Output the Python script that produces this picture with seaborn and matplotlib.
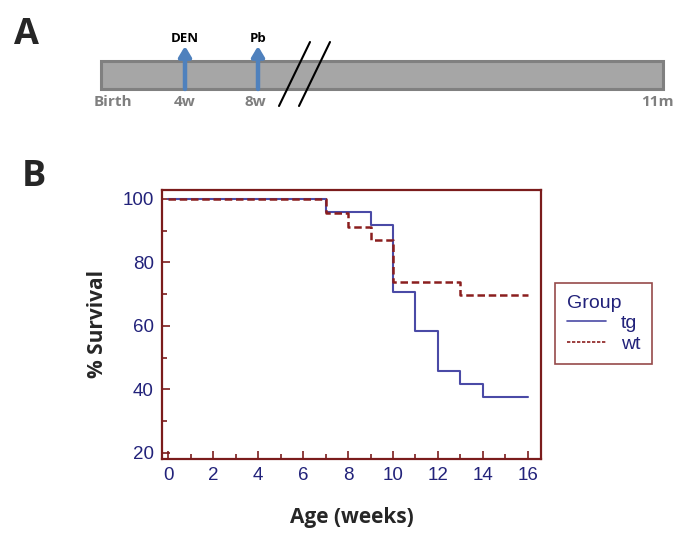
import matplotlib
matplotlib.use("Agg")
import matplotlib.pyplot as plt
import seaborn as sns
import pandas as pd
import numpy as np
from matplotlib.lines import Line2D

# --- data ---
tg_weeks = [0, 7, 9, 10, 11, 12, 13, 14, 16]
tg_surv = [100, 95.8, 91.7, 70.8, 58.3, 45.8, 41.7, 37.5, 37.5]
wt_weeks = [0, 7, 8, 9, 10, 13, 16]
wt_surv = [100, 95.7, 91.3, 87.0, 73.9, 69.6, 69.6]
groups = ["tg", "wt"]

timeline_labels = ["Birth", "4w", "8w", "11m"]
timeline_events = ["DEN", "Pb"]

df = pd.DataFrame({
    "Age": tg_weeks + wt_weeks,
    "Survival": tg_surv + wt_surv,
    "Group": ["tg"] * len(tg_weeks) + ["wt"] * len(wt_weeks),
})

sns.set_theme(style="white")
plt.rcParams["font.family"] = ["Liberation Sans", "DejaVu Sans"]

W, H = 685, 538
fig = plt.figure(figsize=(W / 100, H / 100), dpi=100)

# colours
red = "#7b1c1c"
navy = "#22227a"
line_blue = "#4a4aa6"
line_red = "#8b1e1e"
grey_txt = "#7f7f7f"
label_font = ["Open Sans", "DejaVu Sans"]

# --- panel A: timeline drawn on a pixel canvas ---
canvas = fig.add_axes([0, 0, 1, 1])
canvas.set_xlim(0, W)
canvas.set_ylim(H, 0)
canvas.axis("off")
canvas.patch.set_alpha(0)

bar_x0, bar_x1, bar_top, bar_bot = 101, 663, 61, 89
canvas.add_patch(plt.Rectangle((bar_x0, bar_top), bar_x1 - bar_x0, bar_bot - bar_top,
                               facecolor="#a6a6a6", edgecolor="#808080", linewidth=2.2))
label_x = [113, 185, 255, 657]
for lab, x in zip(timeline_labels, label_x):
    canvas.text(x, 102, lab, ha="center", va="center", fontsize=11,
                fontweight="bold", color=grey_txt, family=label_font)
event_x = [185, 258]
for ev, x in zip(timeline_events, event_x):
    canvas.annotate("", xy=(x, 46), xytext=(x, bar_bot),
                    arrowprops=dict(arrowstyle="-|>,head_width=0.3,head_length=0.5",
                                    color="#4f81bd", lw=3.2, shrinkA=0, shrinkB=0))
    canvas.text(x, 38, ev, ha="center", va="center", fontsize=9.5,
                fontweight="bold", color="black", family=label_font)
for dx in (0, 20):
    canvas.plot([279 + dx, 310 + dx], [106, 42], color="black", lw=1.5)

canvas.text(26, 35, "A", ha="center", va="center", fontsize=26,
            fontweight="bold", family=label_font)
canvas.text(34, 177, "B", ha="center", va="center", fontsize=26,
            fontweight="bold", family=label_font)

# --- panel B: survival curves ---
l, r, t, b = 162, 541, 190, 459
ax = fig.add_axes([l / W, 1 - b / H, (r - l) / W, (b - t) / H])
ax.set_facecolor("white")
sns.lineplot(data=df, x="Age", y="Survival", hue="Group", style="Group",
             palette={"tg": line_blue, "wt": line_red},
             dashes={"tg": "", "wt": (3, 1.5)}, estimator=None,
             drawstyle="steps-post", legend=False, ax=ax)
for ln, lw in zip(ax.get_lines(), [1.5, 1.8]):
    ln.set_linewidth(lw)

ax.set_xlim(-0.27, 16.58)
ax.set_ylim(18.1, 102.8)
ax.set_xticks(np.arange(0, 17, 2))
ax.set_xticks(np.arange(1, 17, 2), minor=True)
ax.set_yticks(np.arange(20, 101, 20))
ax.set_yticks(np.arange(30, 100, 20), minor=True)
ax.tick_params(axis="both", which="major", direction="in", length=6, width=1.2,
               color=red, labelcolor=navy, labelsize=13.5, pad=6)
ax.tick_params(axis="both", which="minor", direction="in", length=3.5, width=1.2,
               color=red)
ax.tick_params(bottom=True, left=True, which="both")
for sp in ax.spines.values():
    sp.set_color(red)
    sp.set_linewidth(1.6)

ax.set_xlabel("Age (weeks)", fontsize=15, fontweight="bold", family=label_font,
              labelpad=16)
ax.set_ylabel("% Survival", fontsize=15, fontweight="bold", family=label_font,
              labelpad=10)

handles = [Line2D([], [], color=line_blue, lw=1.2),
           Line2D([], [], color=line_red, lw=1.2, dashes=(2, 1))]
leg = fig.legend(handles, groups, title="Group", loc="upper left",
                 bbox_to_anchor=(555 / W, 1 - 283 / H), frameon=True,
                 fancybox=False, fontsize=14, title_fontsize=14,
                 handlelength=2.0, handletextpad=0.8, labelspacing=0.15,
                 borderpad=0.6, borderaxespad=0)
leg._legend_box.align = "left"
leg.get_frame().set_edgecolor(red)
leg.get_frame().set_linewidth(1.2)
leg.get_title().set_color(navy)
for txt in leg.get_texts():
    txt.set_color(navy)

fig.savefig("out.png", dpi=100)
